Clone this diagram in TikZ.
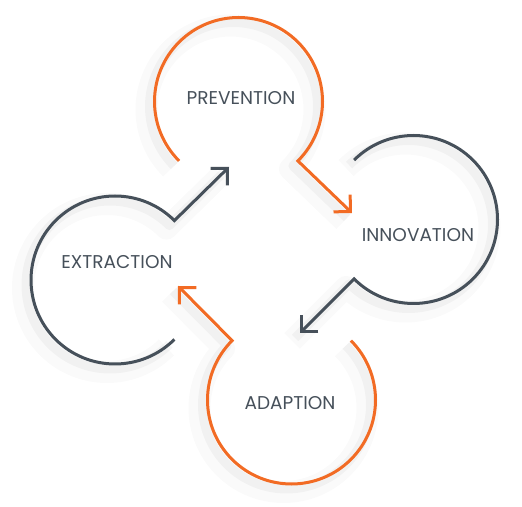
\documentclass[tikz,border=0pt]{standalone}
\usepackage{fontspec}
\setmainfont{Poppins}
\usetikzlibrary{arrows.meta}
\definecolor{orng}{HTML}{F26B24}
\definecolor{slate}{HTML}{46505A}

\begin{document}
\begin{tikzpicture}[x=1pt,y=1pt,
    ring/.style={line width=3pt,line join=miter,
      -{Straight Barb[length=12pt,width=24pt]},
      preaction={draw=black,draw opacity=.02,line width=22pt,line join=round,-,
        transform canvas={shift={(-8pt,-8pt)}}},
      preaction={draw=black,draw opacity=.035,line width=9pt,line join=round,-,
        transform canvas={shift={(-5pt,-5pt)}}}},
    lbl/.style={text=slate,font=\fontsize{18.5}{22}\selectfont}]
  \useasboundingbox (0,0) rectangle (522,506);
  % ring centres
  \coordinate (prev) at (238.5,404.5);
  \coordinate (inno) at (413.5,286.5);
  \coordinate (adap) at (291.5,106);
  \coordinate (extr) at (115,226);
  % arrow tips
  \coordinate (prev-tip) at (352,293);
  \coordinate (inno-tip) at (300,173);
  \coordinate (adap-tip) at (178,220);
  \coordinate (extr-tip) at (229,339);
  % rings
  \draw[ring,orng] (prev) ++(225:84) arc[start angle=225,end angle=-45,radius=84] -- (prev-tip);
  \draw[ring,slate] (inno) ++(135:84) arc[start angle=135,end angle=-135,radius=84] -- (inno-tip);
  \draw[ring,orng] (adap) ++(45:84) arc[start angle=45,end angle=-225,radius=84] -- (adap-tip);
  \draw[ring,slate] (extr) ++(-45:84) arc[start angle=-45,end angle=-315,radius=84] -- (extr-tip);
  % labels
  \node[lbl] (prev-lbl) at (241,408) {PREVENTION};
  \node[lbl] (inno-lbl) at (418,271) {INNOVATION};
  \node[lbl] (adap-lbl) at (290,103) {ADAPTION};
  \node[lbl] (extr-lbl) at (117,244) {EXTRACTION};
\end{tikzpicture}
\end{document}
